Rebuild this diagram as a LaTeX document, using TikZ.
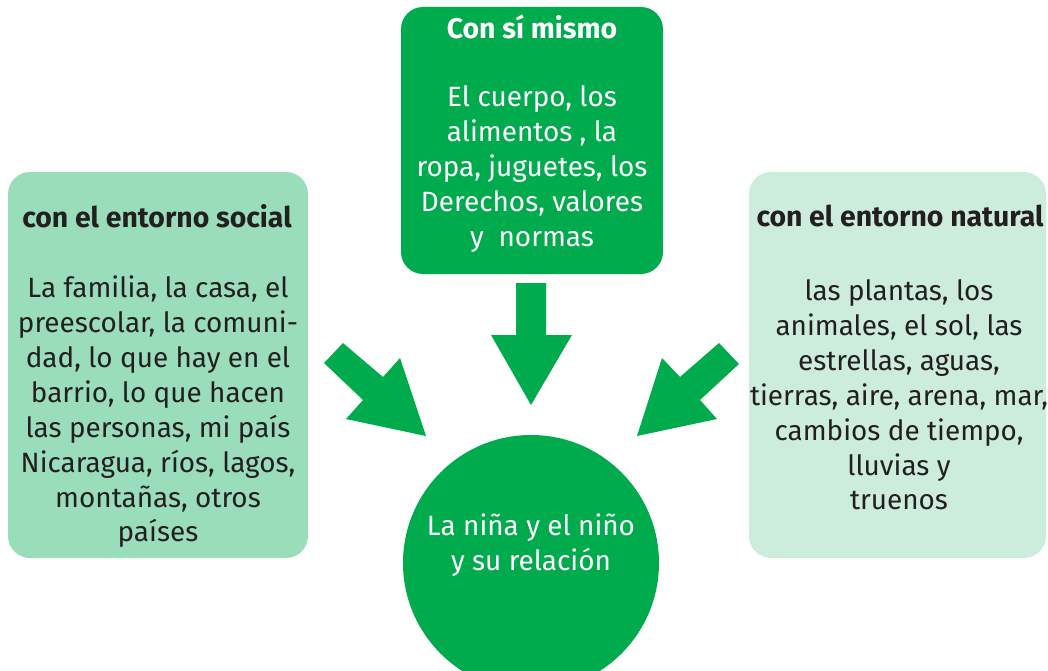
\documentclass[tikz,border=0pt]{standalone}
\usepackage{fontspec}
\setmainfont{Fira Sans}
\definecolor{dgreen}{HTML}{00AB4E}
\definecolor{lgreen}{HTML}{9ADDBB}
\definecolor{pgreen}{HTML}{CDEDDC}
\definecolor{txt}{HTML}{231F20}
\tikzset{
  box/.style={rounded corners=22bp, draw=none},
  body/.style={align=center, font=\fontsize{28}{35}\selectfont, inner sep=0pt},
  title/.style={align=center, font=\fontsize{28.5}{30}\selectfont\bfseries, inner sep=0pt},
  blockarrow/.style={fill=dgreen, draw=none}
}
\begin{document}
\begin{tikzpicture}[x=1bp,y=-1bp]
\useasboundingbox (0,0) rectangle (1048,671);
% boxes
\fill[lgreen,box] (8,172) rectangle (308,558);
\fill[dgreen,box] (401,7) rectangle (663,274);
\fill[pgreen,box] (749,172) rectangle (1046,558);
\begin{scope}
\clip (0,0) rectangle (1048,671);
\fill[dgreen] (531,563) circle (128);
\end{scope}
% arrows
\fill[blockarrow] (516,283) -- (546,283) -- (546,335) -- (572,335) -- (531,405) -- (491,335) -- (516,335) -- cycle;
\fill[blockarrow] (324,363) -- (343,343) -- (383,377) -- (400,358) -- (426,436) -- (346,419) -- (363,400) -- cycle;
\fill[blockarrow] (739,364) -- (719,343) -- (680,377) -- (662,358) -- (637,436) -- (717,419) -- (700,400) -- cycle;
% texts
\node[title, text=txt] (t1) at (157,216) {con el entorno social};
\node[body, text=txt] (b1) at (158,412) {La familia, la casa, el\\preescolar, la comuni-\\dad, lo que hay en el\\barrio, lo que hacen\\las personas, mi país\\Nicaragua, ríos, lagos,\\montañas, otros\\países};
\node[title, text=white] (t2) at (532,27) {Con sí mismo};
\node[body, text=white] (b2) at (532,169) {El cuerpo, los\\alimentos , la\\ropa, juguetes, los\\Derechos, valores\\y~~normas};
\node[title, text=txt] (t3) at (900,216) {con el entorno natural};
\node[body, text=txt] (b3) at (899,395) {las plantas, los\\animales, el sol, las\\estrellas, aguas,\\tierras, aire, arena, mar,\\cambios de tiempo,\\lluvias y\\truenos};
\node[body, text=white] (c) at (531,545) {La niña y el niño\\y su relación};
\end{tikzpicture}
\end{document}
